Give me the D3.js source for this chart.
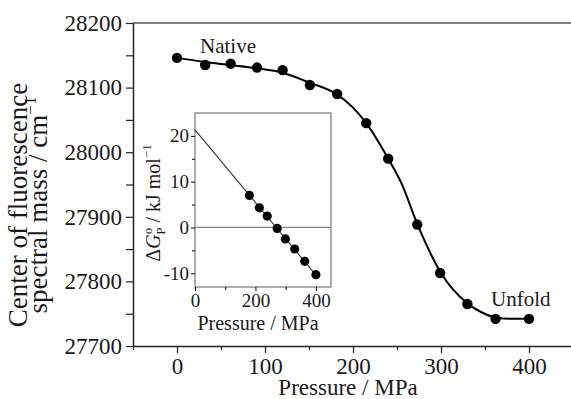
<!DOCTYPE html>
<html>
<head>
<meta charset="utf-8">
<script src="https://cdn.jsdelivr.net/npm/d3@7"></script>
<style>
  body { margin: 0; background: #fff; }
  svg text { font-family: "Liberation Serif", "Times New Roman", serif; fill: #1a1a1a; }
</style>
</head>
<body>
<div id="chart"></div>
<script>
// main panel: measured points
var pressure = [0, 32, 61, 91, 120, 151, 182, 215, 240, 273, 299, 330, 362, 400];
var center = [28146, 28135, 28137, 28131, 28127, 28104, 28090, 28045, 27990, 27888, 27813, 27765, 27742, 27742];
// main panel: fitted curve
var fitP = [0, 30, 60, 90, 120, 150, 180, 200, 215, 240, 255, 273, 300, 330, 345, 362, 380, 400];
var fitC = [28146, 28140, 28135, 28130, 28123, 28108, 28091, 28069, 28045, 27990, 27952, 27889, 27813, 27766, 27753, 27744, 27742, 27742];
var xTicks = [0, 100, 200, 300, 400];
var yTicks = [27700, 27800, 27900, 28000, 28100, 28200];

// inset: free energy vs pressure
var insetP = [180, 213, 239, 272, 299, 330, 363, 400];
var insetG = [7.0, 4.3, 2.5, -0.2, -2.5, -4.7, -7.4, -10.3];
var insetFitP = [0, 400];
var insetFitG = [21.3, -10.4];
var insetXTicks = [0, 200, 400];
var insetYTicks = [-10, 0, 10, 20];

var w = 571, h = 399;
var svg = d3.select("#chart").append("svg").attr("width", w).attr("height", h);

var x = d3.scaleLinear().domain([-50, 450]).range([133, 573]);
var y = d3.scaleLinear().domain([27700, 28200]).range([346, 23]);

// top frame line
svg.append("line").attr("x1", 133).attr("x2", w).attr("y1", 23).attr("y2", 23)
  .style("stroke", "#555").style("stroke-width", 1.5);

// minor ticks
svg.append("g").attr("transform", "translate(0,346)")
  .call(d3.axisBottom(x).tickValues([-50, 50, 150, 250, 350]).tickSize(4).tickFormat(""))
  .call(function(g){ g.select(".domain").remove(); });
svg.append("g").attr("transform", "translate(133,0)")
  .call(d3.axisLeft(y).tickValues([27750, 27850, 27950, 28050, 28150]).tickSize(7).tickFormat(""))
  .call(function(g){ g.select(".domain").remove(); });

var xAxis = svg.append("g").attr("transform", "translate(0,346)")
  .call(d3.axisBottom(x).tickValues(xTicks).tickSize(7).tickSizeOuter(0).tickPadding(5)
    .tickFormat(d3.format("d")));
var yAxis = svg.append("g").attr("transform", "translate(133,0)")
  .call(d3.axisLeft(y).tickValues(yTicks).tickSize(7).tickSizeOuter(0).tickPadding(4)
    .tickFormat(d3.format("d")));

[xAxis, yAxis].forEach(function(g){
  g.select(".domain").style("stroke", "#222").style("stroke-width", 1.5);
  g.selectAll("text").style("font-size", "23px").style("fill", "#1a1a1a");
});
svg.selectAll(".tick line").style("stroke", "#222").style("stroke-width", 1.2);
xAxis.selectAll("text").attr("dy", "0.71em");

// axis titles
svg.append("text").attr("x", 348).attr("y", 395).attr("text-anchor", "middle")
  .style("font-size", "23px").text("Pressure / MPa");

var yl = svg.append("text").attr("transform", "translate(0,205) rotate(-90)")
  .attr("text-anchor", "middle").style("font-size", "27px");
yl.append("tspan").attr("x", 0).attr("y", 27).text("Center of fluorescence");
var l2 = yl.append("tspan").attr("x", 0).attr("y", 47);
l2.append("tspan").text("spectral mass / cm");
l2.append("tspan").attr("dy", -11).style("font-size", "17px").text("\u22121");

// fitted curve and points
var line = d3.line().x(function(d){ return x(d[0]); }).y(function(d){ return y(d[1]); })
  .curve(d3.curveMonotoneX);
svg.append("path").datum(d3.zip(fitP, fitC)).attr("d", line)
  .style("fill", "none").style("stroke", "#000").style("stroke-width", 2);

svg.selectAll("circle.main").data(d3.zip(pressure, center)).enter().append("circle")
  .attr("class", "main")
  .attr("cx", function(d){ return x(d[0]); })
  .attr("cy", function(d){ return y(d[1]); })
  .attr("r", 5.2).style("fill", "#000");

svg.append("text").attr("x", 200).attr("y", 53).style("font-size", "21px").text("Native");
svg.append("text").attr("x", 491).attr("y", 306).style("font-size", "21px").text("Unfold");

// ---- inset ----
var ix = d3.scaleLinear().domain([0, 450]).range([195, 331]);
var iy = d3.scaleLinear().domain([-13, 25]).range([287, 113]);

svg.append("rect").attr("x", 195).attr("y", 113).attr("width", 136).attr("height", 174)
  .style("fill", "#fff").style("stroke", "#777").style("stroke-width", 1.2);

svg.append("g").attr("transform", "translate(195,0)")
  .call(d3.axisLeft(iy).tickValues([-5, 5, 15]).tickSize(3).tickFormat(""))
  .call(function(g){ g.select(".domain").remove(); });
svg.append("g").attr("transform", "translate(0,287)")
  .call(d3.axisBottom(ix).tickValues([100, 300]).tickSize(3).tickFormat(""))
  .call(function(g){ g.select(".domain").remove(); });

var ixAxis = svg.append("g").attr("transform", "translate(0,287)")
  .call(d3.axisBottom(ix).tickValues(insetXTicks).tickSize(4).tickSizeOuter(0).tickPadding(3));
var iyAxis = svg.append("g").attr("transform", "translate(195,0)")
  .call(d3.axisLeft(iy).tickValues(insetYTicks).tickSize(4).tickSizeOuter(0).tickPadding(2));
[ixAxis, iyAxis].forEach(function(g){
  g.select(".domain").remove();
  g.selectAll("text").style("font-size", "19px").style("fill", "#1a1a1a");
});
ixAxis.selectAll("text").attr("dy", "0.71em");
iyAxis.selectAll("text").text(function(d){ return d < 0 ? "-" + Math.abs(d) : d; });
svg.selectAll("circle.main").raise();

// zero line
svg.append("line").attr("x1", ix(0)).attr("x2", ix(450)).attr("y1", iy(0)).attr("y2", iy(0))
  .style("stroke", "#888").style("stroke-width", 1.2);

svg.append("path").datum(d3.zip(insetFitP, insetFitG))
  .attr("d", d3.line().x(function(d){ return ix(d[0]); }).y(function(d){ return iy(d[1]); }))
  .style("fill", "none").style("stroke", "#333").style("stroke-width", 1.1);

svg.selectAll("circle.inset").data(d3.zip(insetP, insetG)).enter().append("circle")
  .attr("class", "inset")
  .attr("cx", function(d){ return ix(d[0]); })
  .attr("cy", function(d){ return iy(d[1]); })
  .attr("r", 4.6).style("fill", "#000");

svg.append("text").attr("x", 258).attr("y", 330).attr("text-anchor", "middle")
  .style("font-size", "20px").text("Pressure / MPa");

var il = svg.append("text").attr("transform", "translate(160,203) rotate(-90)")
  .attr("text-anchor", "middle").style("font-size", "20px");
il.append("tspan").text("\u0394");
il.append("tspan").style("font-style", "italic").text("G");
il.append("tspan").attr("dy", -8).style("font-size", "13px").text("o");
il.append("tspan").attr("dx", -7).attr("dy", 13).style("font-size", "13px").text("P");
il.append("tspan").attr("dy", -5).text(" / kJ mol");
il.append("tspan").attr("dy", -9).style("font-size", "13px").text("\u22121");
</script>
</body>
</html>
